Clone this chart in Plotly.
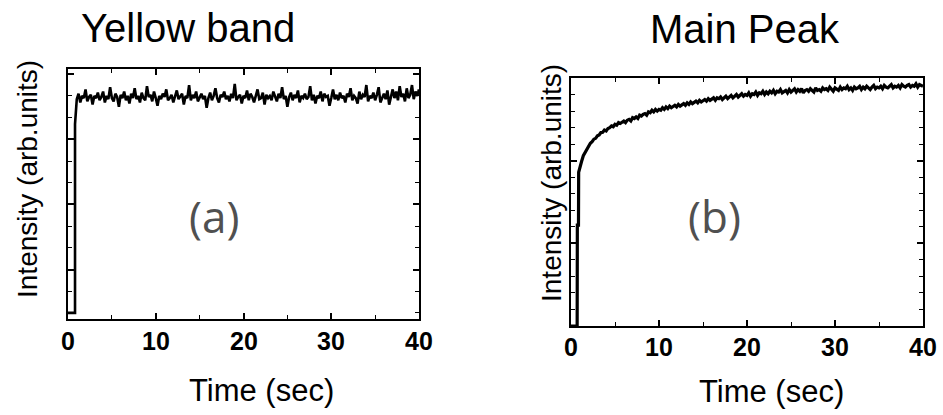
import plotly.graph_objects as go

# ---------------- data ----------------
yellow_start_t = [0.0, 0.8, 0.8, 0.9]
yellow_start_v = [0.0, 0.0, 8.7, 9.3]
yellow_values = [
    9.85, 10.1, 9.7, 10.0, 9.9, 10.3, 9.75, 9.95, 10.05, 9.6, 10.0, 9.9, 10.15, 9.8,
    9.95, 10.2, 9.7, 10.0, 9.85, 10.4, 9.9, 9.75, 10.1, 9.95, 9.5, 10.05, 9.9, 10.2,
    9.8, 10.0, 9.65, 10.1, 9.9, 10.35, 9.85, 10.0, 9.7, 10.15, 9.9, 9.8, 10.45, 9.95,
    10.05, 9.75, 10.2, 9.9, 9.55, 10.0, 9.85, 10.1, 9.95, 10.3, 9.8, 9.9, 10.05, 9.7,
    10.0, 10.25, 9.85, 9.95, 10.1, 9.6, 10.0, 9.9, 10.5, 9.8, 10.05, 9.9, 10.2, 9.75,
    9.95, 10.1, 9.85, 10.0, 9.45, 9.9, 10.15, 9.8, 10.0, 10.35, 9.9, 9.7, 10.05, 9.95,
    10.2, 9.85, 10.0, 9.75, 10.1, 9.9, 10.55, 9.8, 9.95, 10.05, 9.65, 10.0, 9.9, 10.25,
    9.8, 10.1, 9.95, 9.7, 10.0, 10.3, 9.85, 9.9, 10.15, 9.6, 10.05, 9.9, 10.0, 9.8,
    10.2, 9.95, 9.75, 10.1, 9.9, 10.4, 9.85, 10.0, 9.5, 9.95, 10.15, 9.8, 10.05, 9.9,
    10.25, 9.7, 10.0, 9.9, 10.1, 9.85, 9.95, 10.45, 9.8, 10.05, 9.65, 10.0, 9.9, 10.2,
    9.75, 10.1, 9.95, 10.0, 9.55, 9.9, 10.3, 9.85, 10.05, 9.8, 10.15, 9.9, 10.0, 9.7,
    10.1, 9.95, 10.35, 9.8, 10.0, 9.9, 9.65, 10.2, 9.85, 10.05, 9.95, 10.5, 9.75, 10.0,
    9.9, 10.15, 9.8, 10.05, 10.4, 9.7, 9.95, 10.1, 9.85, 10.25, 9.6, 10.0, 10.3, 9.9,
    10.2, 9.8, 10.45, 9.95, 10.1, 9.75, 10.35, 9.9, 10.05, 10.5, 9.85, 10.2, 10.0, 10.3,
]

main_start_t = [0.0, 0.7, 0.72, 0.85, 0.87]
main_start_v = [0.0, 0.0, 6.1, 6.1, 9.3]
main_values = [
    9.6, 9.95, 10.3, 10.5, 10.7, 10.85, 11.05, 11.15, 11.3, 11.35,
    11.5, 11.55, 11.7, 11.72, 11.85, 11.8, 11.95, 12.0, 12.1, 12.05,
    12.2, 12.15, 12.3, 12.25, 12.35, 12.4, 12.3, 12.45, 12.5, 12.4,
    12.6, 12.55, 12.65, 12.55, 12.75, 12.7, 12.8, 12.85, 12.75, 12.95,
    12.9, 13.05, 12.95, 13.1, 13.0, 13.1, 13.05, 13.2, 13.1, 13.25,
    13.15, 13.3, 13.2, 13.25, 13.35, 13.25, 13.4, 13.3, 13.35, 13.45,
    13.35, 13.5, 13.4, 13.55, 13.45, 13.5, 13.6, 13.5, 13.65, 13.55,
    13.6, 13.7, 13.6, 13.75, 13.65, 13.7, 13.8, 13.65, 13.8, 13.75,
    13.85, 13.7, 13.8, 13.9, 13.75, 13.85, 13.95, 13.8, 13.9, 14.0,
    13.85, 13.95, 14.05, 13.9, 14.0, 13.95, 14.1, 13.9, 14.05, 14.0,
    14.15, 13.95, 14.1, 14.05, 14.2, 14.0, 14.15, 14.05, 14.2, 14.1,
    14.25, 14.05, 14.2, 14.15, 14.3, 14.1, 14.2, 14.25, 14.1, 14.3,
    14.15, 14.25, 14.35, 14.15, 14.3, 14.2, 14.35, 14.1, 14.25, 14.3,
    14.2, 14.35, 14.25, 14.15, 14.4, 14.25, 14.3, 14.2, 14.4, 14.3,
    14.35, 14.25, 14.45, 14.3, 14.2, 14.4, 14.35, 14.25, 14.45, 14.3,
    14.4, 14.35, 14.5, 14.3, 14.4, 14.25, 14.45, 14.35, 14.4, 14.5,
    14.3, 14.45, 14.35, 14.5, 14.4, 14.3, 14.45, 14.55, 14.35, 14.45,
    14.4, 14.5, 14.35, 14.55, 14.45, 14.4, 14.5, 14.6, 14.4, 14.5,
    14.45, 14.55, 14.4, 14.6, 14.5, 14.45, 14.55, 14.6, 14.45, 14.55,
    14.5, 14.65, 14.45, 14.6, 14.55, 14.5,
]

SAMPLE_T0 = 1.0
SAMPLE_DT = 0.2
yellow_t = yellow_start_t + [round(SAMPLE_T0 + SAMPLE_DT * i, 2) for i in range(len(yellow_values))]
yellow_v = yellow_start_v + yellow_values
main_t = main_start_t + [round(SAMPLE_T0 + SAMPLE_DT * i, 2) for i in range(len(main_values))]
main_v = main_start_v + main_values

x_ticks = [0, 10, 20, 30, 40]
x_tick_labels = ["0", "10", "20", "30", "40"]
titles = ["Yellow band", "Main Peak"]
panel_labels = ["(a)", "(b)"]
x_title = "Time (sec)"
y_title = "Intensity (arb.units)"

# ---------------- figure ----------------
W, H = 943, 415
def px_x(p): return p / W
def px_y(p): return 1 - p / H

fig = go.Figure()
fig.add_trace(go.Scatter(x=yellow_t, y=yellow_v, mode="lines",
                         line=dict(color="black", width=2.6), xaxis="x", yaxis="y",
                         showlegend=False, hoverinfo="skip"))
fig.add_trace(go.Scatter(x=main_t, y=main_v, mode="lines",
                         line=dict(color="black", width=3.2), xaxis="x2", yaxis="y2",
                         showlegend=False, hoverinfo="skip"))

def xaxis_cfg(domain, anchor):
    return dict(domain=domain, anchor=anchor, range=[0, 40],
                tickmode="array", tickvals=x_ticks, showticklabels=False,
                ticks="inside", ticklen=6, tickwidth=1.5, tickcolor="black",
                minor=dict(ticks="inside", dtick=5, tick0=0, ticklen=4, tickwidth=1.2, tickcolor="black"),
                showline=True, linecolor="black", linewidth=2, mirror="ticks",
                showgrid=False, zeroline=False)

def yaxis_cfg(domain, anchor, rng, majors):
    return dict(domain=domain, anchor=anchor, range=rng,
                tickmode="array", tickvals=majors, showticklabels=False,
                ticks="inside", ticklen=6, tickwidth=1.5, tickcolor="black",
                minor=dict(ticks="inside", dtick=1, tick0=0, ticklen=4, tickwidth=1.2, tickcolor="black"),
                showline=True, linecolor="black", linewidth=2, mirror="ticks",
                showgrid=False, zeroline=False)

fig.update_layout(
    width=W, height=H, margin=dict(l=0, r=0, t=0, b=0),
    paper_bgcolor="white", plot_bgcolor="white",
    xaxis=xaxis_cfg([px_x(68), px_x(419)], "y"),
    yaxis=yaxis_cfg([px_y(319), px_y(69)], "x", [-0.28, 11.24], [2, 5, 8, 11]),
    xaxis2=xaxis_cfg([px_x(571), px_x(923)], "y2"),
    yaxis2=yaxis_cfg([px_y(326), px_y(78)], "x2", [0, 15], [0, 5, 10, 15]),
)

font_main = "Liberation Sans, Arial"

# tick labels positioned through the x axes' own scales
for xref, ypix in [("x", 341), ("x2", 347)]:
    for v, lbl in zip(x_ticks, x_tick_labels):
        fig.add_annotation(text="<b>%s</b>" % lbl, x=v, y=px_y(ypix), xref=xref, yref="paper",
                           xanchor="center", yanchor="middle", showarrow=False,
                           font=dict(family=font_main, size=25, color="black"))

annots = [
    dict(text=titles[0], x=px_x(188), y=px_y(28), size=40),
    dict(text=titles[1], x=px_x(745), y=px_y(29), size=40),
    dict(text=x_title, x=px_x(261), y=px_y(390), size=31),
    dict(text=x_title, x=px_x(771), y=px_y(391), size=31),
]
for a in annots:
    fig.add_annotation(text=a["text"], x=a["x"], y=a["y"], xref="paper", yref="paper",
                       xanchor="center", yanchor="middle", showarrow=False,
                       font=dict(family=font_main, size=a["size"], color="black"))
for xc, yc in [(27, 179), (551, 183)]:
    fig.add_annotation(text=y_title, x=px_x(xc), y=px_y(yc), xref="paper", yref="paper",
                       xanchor="center", yanchor="middle", showarrow=False, textangle=-90,
                       font=dict(family=font_main, size=28, color="black"))
for lbl, xc in zip(panel_labels, [214, 714]):
    fig.add_annotation(text=lbl, x=px_x(xc), y=px_y(216), xref="paper", yref="paper",
                       xanchor="center", yanchor="middle", showarrow=False,
                       font=dict(family="Open Sans", size=44, color="#505050"))

fig.write_html("out.html", config={"displayModeBar": False},
               post_script="document.body.style.margin='0';document.body.style.overflow='hidden';")
